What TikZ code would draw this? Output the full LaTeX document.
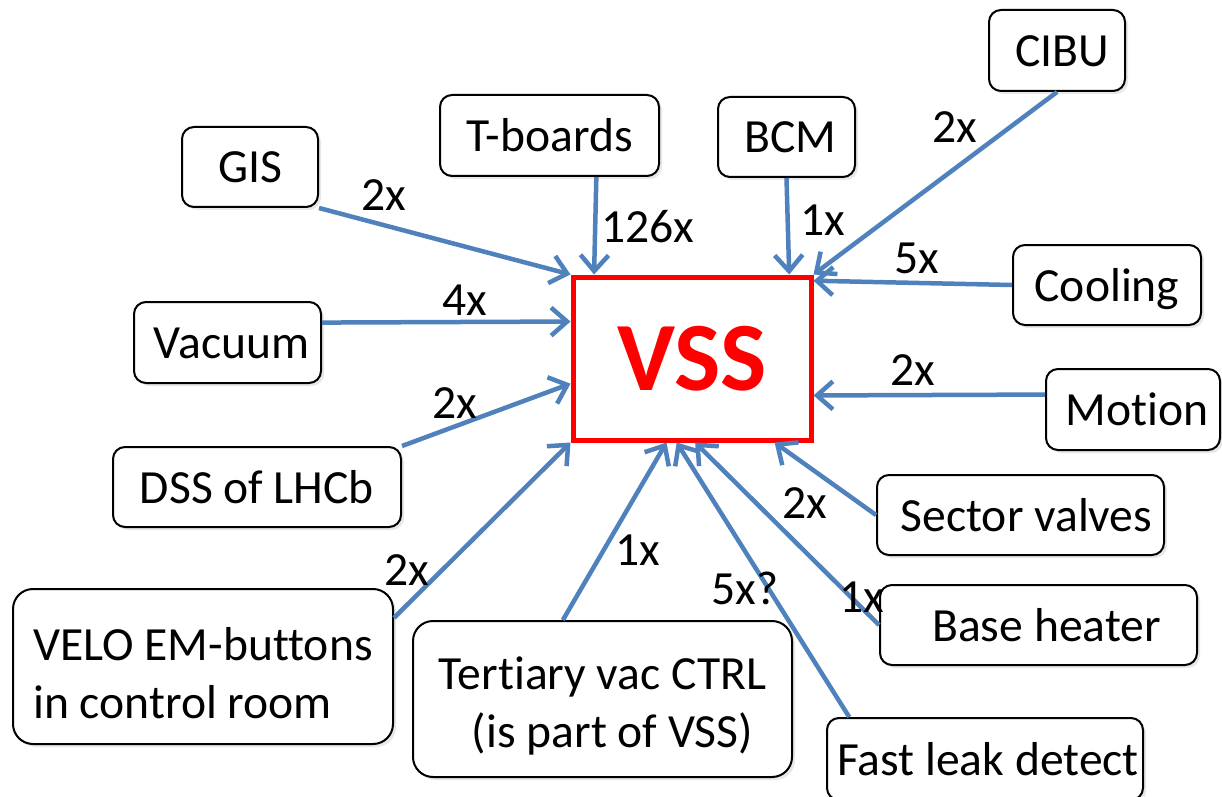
\documentclass[tikz,border=0pt]{standalone}
\usepackage{fontspec}
\setmainfont{Carlito}[Ligatures=NoCommon]
\usetikzlibrary{arrows.meta,calc,shadows}
\newcommand\boxfont{\fontsize{23.8pt}{29pt}\selectfont}
\newcommand\vssfont{\fontsize{49pt}{55pt}\selectfont\bfseries}
\newcommand\firststrut{\rule{0pt}{23pt}}
\definecolor{arrowblue}{HTML}{4F81BD}
\definecolor{vssred}{HTML}{FF0000}
\begin{document}
\begin{tikzpicture}[x=0.5pt,y=-0.5pt,
  shad/.style={drop shadow={opacity=0.18, shadow xshift=1.5pt, shadow yshift=-1.5pt}},
  box/.style={draw=black, line width=1pt, rounded corners=6pt, fill=white, inner sep=0pt,
    font=\boxfont, text height=19.5pt, text depth=3.5pt, shad},
  twoline/.style={draw=black, line width=1pt, rounded corners=10pt, fill=white, inner sep=0pt,
    font=\boxfont, shad},
  conn/.style={draw=arrowblue, line width=2.25pt, -{Straight Barb[length=8pt,width=14pt]}},
  lbl/.style={font=\boxfont, inner sep=0pt}]
\clip (0,0) rectangle (1222,797);
\fill[white] (0,0) rectangle (1222,797);
% boxes
\node[box, minimum width=68pt, minimum height=40pt] (gis) at (250,167) {GIS\hspace{10pt}};
\node[box, minimum width=93.5pt, minimum height=40.5pt] (vac) at (227.5,342.5) {\hspace{4pt}Vacuum};
\node[box, minimum width=109.5pt, minimum height=40.5pt] (tb) at (549.5,135.5) {T-boards\hspace{5pt}};
\node[box, minimum width=68.5pt, minimum height=40pt] (bcm) at (786.5,137) {\hspace{4pt}BCM};
\node[box, minimum width=68pt, minimum height=40.5pt] (cibu) at (1057,50.5) {\hspace{5pt}CIBU};
\node[box, minimum width=94pt, minimum height=40pt] (cool) at (1107,285) {Cooling\hspace{2pt}};
\node[box, minimum width=87pt, minimum height=40.5pt] (mot) at (1133,409.5) {\hspace{4pt}Motion};
\node[box, minimum width=144pt, minimum height=40pt] (dss) at (257,487) {DSS of LHCb\hspace{3pt}};
\node[twoline, align=left, minimum width=190pt, minimum height=77.5pt] (velo) at (203,666.5) {\firststrut VELO EM-buttons\\in control room};
\node[twoline, align=center, minimum width=189.5pt, minimum height=78pt] (ter) at (602.5,699) {\firststrut Tertiary vac CTRL\\\hspace{10pt}(is part of VSS)};
\node[box, minimum width=143.5pt, minimum height=40pt] (sec) at (1020.5,515) {\hspace{6pt}Sector valves};
\node[box, minimum width=158.5pt, minimum height=40pt] (base) at (1038.5,625) {\hspace{8pt}Base heater};
\node[box, minimum width=158pt, minimum height=41pt] (leak) at (985,759) {\hspace{3pt}Fast leak detect};
\node[draw=vssred, line width=2.5pt, fill=white, minimum width=119pt, minimum height=81.5pt,
  inner sep=0pt, font=\vssfont, text=vssred] (vss) at (692,358.5) {VSS};
% connectors
\draw[conn] (gis.south east) -- (vss.north west);
\draw[conn] ($(tb.south west)!0.712!(tb.south east)$) -- ($(vss.north west)!0.097!(vss.north east)$);
\draw[conn] (bcm.south) -- ($(vss.north west)!0.90!(vss.north east)$);
\draw[conn] (cibu.south) -- (vss.north east);
\draw[conn] (cool.west) -- ($(vss.north east)!0.037!(vss.south east)$);
\draw[conn] ($(mot.north west)!0.32!(mot.south west)$) -- ($(vss.north east)!0.72!(vss.south east)$);
\draw[conn] ($(vac.north east)!0.26!(vac.south east)$) -- ($(vss.north west)!0.28!(vss.south west)$);
\draw[conn] (dss.north east) -- ($(vss.north west)!0.65!(vss.south west)$);
\draw[conn] ($(velo.north east)!0.19!(velo.south east)$) -- (vss.south west);
\draw[conn] ($(ter.north west)!0.396!(ter.north east)$) -- ($(vss.south west)!0.395!(vss.south east)$);
\draw[conn] ($(leak.north west)!0.073!(leak.north east)$) -- ($(vss.south west)!0.437!(vss.south east)$);
\draw[conn] (base.west) -- ($(vss.south west)!0.513!(vss.south east)$);
\draw[conn] (sec.west) -- ($(vss.south west)!0.84!(vss.south east)$);
% labels
\node[lbl] (lgis) at (384,195) {2x};
\node[lbl] (ltb) at (648,227) {126x};
\node[lbl] (lbcm) at (823,220) {1x};
\node[lbl] (lcibu) at (955,127) {2x};
\node[lbl] (lcool) at (917,258) {5x};
\node[lbl] (lvac) at (465,300) {4x};
\node[lbl] (lmot) at (913,370) {2x};
\node[lbl] (ldss) at (455,403) {2x};
\node[lbl] (lsec) at (805,503) {2x};
\node[lbl] (lbase) at (862,597) {1x};
\node[lbl] (lvelo) at (407,570) {2x};
\node[lbl] (lter) at (638,550) {1x};
\node[lbl] (lleak) at (745,588) {5x?};
\end{tikzpicture}
\end{document}
